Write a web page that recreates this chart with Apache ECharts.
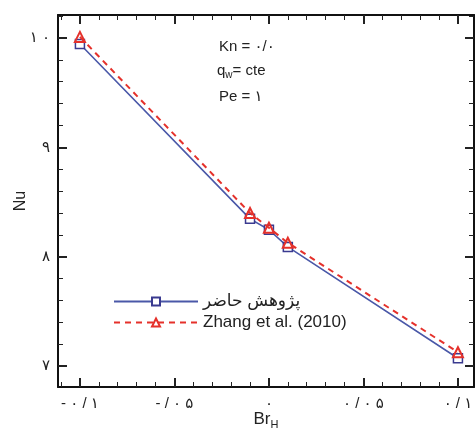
<!DOCTYPE html>
<html><head><meta charset="utf-8">
<script src="https://cdn.jsdelivr.net/npm/echarts@6/dist/echarts.min.js"></script>
<style>html,body{margin:0;padding:0;background:#fff}#c{width:475px;height:428px}</style>
</head><body><div id="c"></div>
<script>
var brH = [-0.1, -0.01, 0, 0.01, 0.1];
var nuPresent = [9.945, 8.347, 8.247, 8.09, 7.073];
var nuZhang = [10.01, 8.40, 8.265, 8.128, 7.128];
var xMajor = [-0.1, -0.05, 0, 0.05, 0.1];
var xMajorLabels = ['- ۰ / ۱', '- / ۰ ۵', '۰', '۰ / ۰ ۵', '۰ / ۱'];
var xMinor = [-0.11, -0.09, -0.08, -0.07, -0.06, -0.04, -0.03, -0.02, -0.01, 0.01, 0.02, 0.03, 0.04, 0.06, 0.07, 0.08, 0.09];
var yMajor = [7, 8, 9, 10];
var yMajorLabels = ['۷', '۸', '۹', '۱ ۰'];
var yMinor = [6.8, 7.2, 7.4, 7.6, 7.8, 8.2, 8.4, 8.6, 8.8, 9.2, 9.4, 9.6, 9.8, 10.2];
var seriesNames = ['پژوهش حاضر', 'Zhang et al. (2010)'];

var FONT = 'Arial, "Liberation Sans", "DejaVu Sans", sans-serif';
var XMIN = -0.1116, XMAX = 0.1085, YMIN = 6.81, YMAX = 10.21;

function xAx(pos, major, showLabel) {
  var vals = major ? xMajor : xMinor;
  return {
    type: 'value', position: pos, min: XMIN, max: XMAX,
    axisLine: { show: major, onZero: false, lineStyle: { color: '#111', width: 2 } },
    splitLine: { show: false },
    axisTick: { show: true, inside: true, length: major ? 9 : 5, customValues: vals, lineStyle: { color: '#222', width: major ? 2 : 1 } },
    axisLabel: showLabel ? {
      show: true, customValues: xMajor, margin: 9, color: '#222', fontSize: 15, fontFamily: FONT,
      formatter: function (v) { var i = xMajor.findIndex(function (m) { return Math.abs(m - v) < 1e-9; }); return i >= 0 ? xMajorLabels[i] : ''; }
    } : { show: false },
    name: showLabel ? '{a|Br}{s|H}' : '',
    nameLocation: 'middle', nameGap: 22, nameMoveOverlap: false,
    nameTextStyle: { rich: { a: { fontSize: 17, color: '#222', fontFamily: FONT }, s: { fontSize: 11, color: '#222', fontFamily: FONT, padding: [10, 0, 0, 0] } } }
  };
}
function yAx(pos, major, showLabel) {
  var vals = major ? yMajor : yMinor;
  return {
    type: 'value', position: pos, min: YMIN, max: YMAX,
    axisLine: { show: major, onZero: false, lineStyle: { color: '#111', width: 2 } },
    splitLine: { show: false },
    axisTick: { show: true, inside: true, length: major ? 9 : 5, customValues: vals, lineStyle: { color: '#222', width: major ? 2 : 1 } },
    axisLabel: showLabel ? {
      show: true, customValues: yMajor, margin: 8, color: '#222', fontSize: 15, fontFamily: FONT,
      formatter: function (v) { var i = yMajor.findIndex(function (m) { return Math.abs(m - v) < 1e-9; }); return i >= 0 ? yMajorLabels[i] : ''; }
    } : { show: false },
    name: showLabel ? 'Nu' : '',
    nameLocation: 'middle', nameGap: 29, nameMoveOverlap: false,
    nameTextStyle: { fontSize: 16, color: '#222', fontFamily: FONT }
  };
}

var chart = echarts.init(document.getElementById('c'), null, { renderer: 'canvas' });
chart.setOption({
  animation: false,
  backgroundColor: '#fff',
  grid: { left: 58, top: 15, right: 1, bottom: 41, containLabel: false, outerBoundsMode: 'none' },
  xAxis: [xAx('bottom', true, true), xAx('bottom', false, false), xAx('top', true, false), xAx('top', false, false)],
  yAxis: [yAx('left', true, true), yAx('left', false, false), yAx('right', true, false), yAx('right', false, false)],
  legend: {
    orient: 'vertical', left: 108, top: 288, itemGap: 4, itemWidth: 84, itemHeight: 10,
    textStyle: { fontSize: 17, color: '#222', fontFamily: FONT },
    data: seriesNames
  },
  series: [
    {
      name: seriesNames[0], type: 'line', xAxisIndex: 0, yAxisIndex: 0,
      data: brH.map(function (x, i) { return [x, nuPresent[i]]; }),
      symbol: 'rect', symbolSize: 9, showAllSymbol: true, z: 3,
      lineStyle: { color: '#4a58a8', width: 1.6 },
      itemStyle: { color: '#fff', borderColor: '#3a3a90', borderWidth: 1.5 }
    },
    {
      name: seriesNames[1], type: 'line', xAxisIndex: 0, yAxisIndex: 0,
      data: brH.map(function (x, i) { return [x, nuZhang[i]]; }),
      symbol: 'triangle', symbolSize: 10, showAllSymbol: true, z: 4,
      lineStyle: { color: '#e5312b', width: 2, type: [6, 5] },
      itemStyle: { color: 'rgba(255,255,255,0)', borderColor: '#e5312b', borderWidth: 2 }
    }
  ],
  graphic: [
    { type: 'text', left: 219, top: 39, style: { text: 'Kn = ۰/۰', fontSize: 15, fill: '#222', fontFamily: FONT } },
    { type: 'text', left: 217, top: 63, style: { text: '{a|q}{s|w}{a|= cte}', fontSize: 15, fill: '#222', fontFamily: FONT,
        rich: { a: { fontSize: 15, fill: '#222', fontFamily: FONT }, s: { fontSize: 10, fill: '#222', fontFamily: FONT, padding: [9, 0, 0, 0] } } } },
    { type: 'text', left: 219, top: 89, style: { text: 'Pe = ۱', fontSize: 15, fill: '#222', fontFamily: FONT } }
  ]
});
</script></body></html>
